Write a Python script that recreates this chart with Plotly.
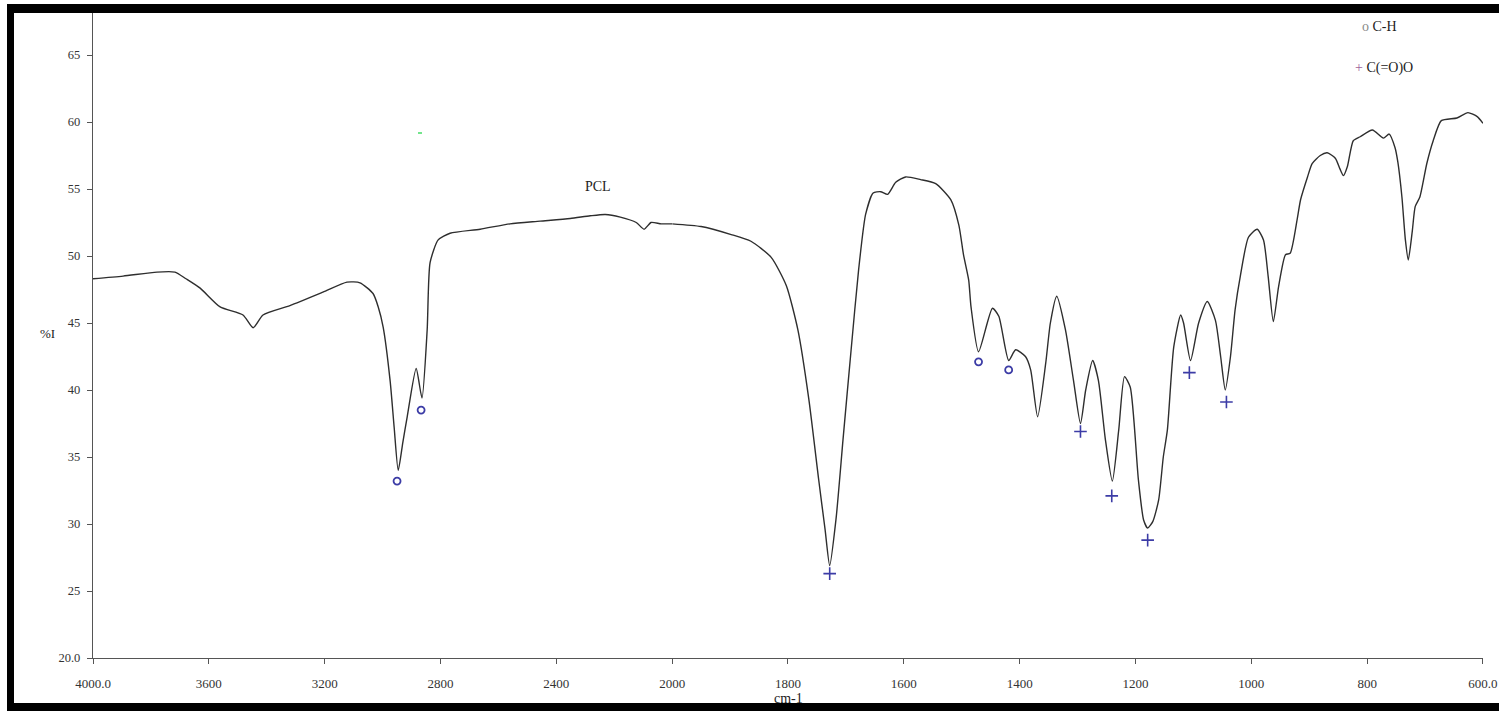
import plotly.graph_objects as go

# FTIR spectrum of PCL (wavenumber in cm-1, transmittance in %)
wavenumber = [
    4000, 3896, 3779, 3717, 3679, 3630, 3561, 3482, 3447, 3413, 3320, 3206,
    3123, 3078, 3033, 3015, 2998, 2974, 2960, 2946, 2930, 2915, 2884, 2864,
    2846, 2836, 2808, 2767, 2663, 2560, 2456, 2352, 2283, 2231, 2179, 2124,
    2097, 2073, 2038, 2000,
    1950, 1898, 1864, 1829, 1803, 1783, 1764, 1747, 1736, 1728, 1717, 1705,
    1691, 1678, 1666, 1653, 1640, 1628, 1614, 1597, 1571, 1545, 1519, 1505,
    1497, 1488, 1484, 1471, 1447, 1436, 1419, 1407, 1390, 1381, 1369, 1355,
    1347, 1336, 1321, 1307, 1295, 1286, 1274, 1264, 1252, 1240, 1229, 1219,
    1209, 1195, 1186, 1179, 1170, 1160, 1152, 1145, 1134, 1122, 1117, 1105,
    1091, 1076, 1062, 1053, 1045, 1036, 1028, 1019, 1005, 990, 979, 971,
    962, 953, 941, 933, 921, 915, 903, 895, 881, 869, 855, 847, 841, 834,
    824, 812, 791, 772, 762, 752, 747, 740, 734, 729, 722, 717, 709, 697,
    686, 672, 645, 626, 610, 600,
]
transmittance = [
    48.3, 48.5, 48.8, 48.8, 48.3, 47.6, 46.2, 45.6, 44.65, 45.6, 46.3, 47.3,
    48.05, 48.0, 47.2, 46.2, 44.7, 40.7, 37.2, 34.0, 36.1, 38.0, 41.6, 39.4,
    44.5, 49.5, 51.2, 51.7, 52.0, 52.4, 52.6, 52.8, 53.0, 53.1, 52.9, 52.5,
    52.0, 52.5, 52.4, 52.4,
    52.2, 51.6, 51.1, 49.9, 47.8, 44.5, 39.3, 33.3, 29.6, 26.9, 30.4, 36.3,
    43.0, 49.0, 53.1, 54.7, 54.8, 54.6, 55.5, 55.9, 55.7, 55.4, 54.2, 52.3,
    50.1, 48.2, 46.2, 42.85, 46.1, 45.5, 42.2, 43.0, 42.5, 41.5, 38.0, 42.0,
    45.0, 47.0, 44.5, 40.7, 37.5, 40.0, 42.2, 40.7, 36.3, 33.2, 37.0, 41.0,
    40.2, 33.3, 30.3, 29.7, 30.2, 31.8, 35.0, 37.0, 43.2, 45.6, 45.0, 42.2,
    45.0, 46.6, 45.2, 42.5, 40.0, 42.5, 46.0, 48.5, 51.4, 52.0, 51.2, 48.5,
    45.1, 47.7, 50.1, 50.2, 52.7, 54.2, 55.9, 56.9, 57.5, 57.7, 57.3, 56.5, 56.0, 56.7,
    58.6, 58.9, 59.4, 58.8, 59.1, 58.1, 57.0, 54.4, 51.2, 49.7, 51.9, 53.7, 54.4, 56.9,
    58.6, 60.1, 60.3, 60.7, 60.4, 59.9,
]

# Assigned bands: C-H stretching/bending (o) and ester C(=O)O (+)
ch_wavenumber = [2950, 2867, 1471, 1419]
ch_label_y = [33.2, 38.5, 42.1, 41.5]
ester_wavenumber = [1728, 1295, 1241, 1179, 1107, 1043]
ester_label_y = [26.3, 36.9, 32.1, 28.8, 41.3, 39.1]

# Axis ticks (the scale is compressed two-fold above 2000 cm-1)
x_ticks_high = [4000, 3600, 3200, 2800, 2400]
x_ticklabels_high = ["4000.0", "3600", "3200", "2800", "2400"]
x_ticks_low = [2000, 1800, 1600, 1400, 1200, 1000, 800, 600]
x_ticklabels_low = ["2000", "1800", "1600", "1400", "1200", "1000", "800", "600.0"]
y_ticks = [20, 25, 30, 35, 40, 45, 50, 55, 60, 65]
y_ticklabels = ["20.0", "25", "30", "35", "40", "45", "50", "55", "60", "65"]

W, H = 1499, 711
ML, MR, MT, MB = 93, 16, 13, 53
PW, PH = W - ML - MR, H - MT - MB
SPLIT = 2000
split_frac = (4000 - SPLIT) / 2 / ((4000 - SPLIT) / 2 + (SPLIT - 600))

SERIF = "Liberation Serif"
LINE = "#2e2e2e"
BLUE = "#3c3ca6"


def px_x(p):
    return (p - ML) / PW


def px_y(p):
    return (H - MB - p) / PH


hi_w = [w for w in wavenumber if w >= SPLIT]
hi_t = [t for w, t in zip(wavenumber, transmittance) if w >= SPLIT]
lo_w = [w for w in wavenumber if w <= SPLIT]
lo_t = [t for w, t in zip(wavenumber, transmittance) if w <= SPLIT]

spectrum_line = dict(color=LINE, width=1.4, shape="spline", smoothing=0.6)

fig = go.Figure()
fig.add_trace(go.Scatter(x=hi_w, y=hi_t, mode="lines", xaxis="x", yaxis="y",
                         line=spectrum_line, showlegend=False))
fig.add_trace(go.Scatter(x=lo_w, y=lo_t, mode="lines", xaxis="x2", yaxis="y",
                         line=spectrum_line, showlegend=False))

ch_hi = [(w, y) for w, y in zip(ch_wavenumber, ch_label_y) if w >= SPLIT]
ch_lo = [(w, y) for w, y in zip(ch_wavenumber, ch_label_y) if w < SPLIT]
ch_marker = dict(symbol="circle-open", size=7, color=BLUE, line=dict(width=1.8, color=BLUE))
fig.add_trace(go.Scatter(x=[p[0] for p in ch_hi], y=[p[1] for p in ch_hi], mode="markers",
                         xaxis="x", yaxis="y", marker=ch_marker, showlegend=False))
fig.add_trace(go.Scatter(x=[p[0] for p in ch_lo], y=[p[1] for p in ch_lo], mode="markers",
                         xaxis="x2", yaxis="y", marker=ch_marker, showlegend=False))
fig.add_trace(go.Scatter(x=ester_wavenumber, y=ester_label_y, mode="markers",
                         xaxis="x2", yaxis="y",
                         marker=dict(symbol="cross-thin", size=9, color=BLUE,
                                     line=dict(width=1.6, color=BLUE)),
                         showlegend=False))

axis_common = dict(
    showline=True, linecolor="#555", linewidth=1.3, mirror=False,
    ticks="outside", ticklen=5, tickwidth=1.3, tickcolor="#555",
    showgrid=False, zeroline=False, automargin=False,
    tickfont=dict(family=SERIF, size=13, color="#333"),
    ticklabelstandoff=8,
)

fig.update_layout(
    width=W, height=H,
    margin=dict(l=ML, r=MR, t=MT, b=MB),
    paper_bgcolor="white", plot_bgcolor="white",
    template="none",
    showlegend=False,
    xaxis=dict(domain=[0, split_frac], range=[4000, SPLIT], anchor="y",
               tickvals=x_ticks_high, ticktext=x_ticklabels_high, **axis_common),
    xaxis2=dict(domain=[split_frac, 1], range=[SPLIT, 600], anchor="y",
                tickvals=x_ticks_low, ticktext=x_ticklabels_low, **axis_common),
    yaxis=dict(range=[20, 20 + PH / 13.4], tickvals=y_ticks, ticktext=y_ticklabels,
               anchor="x", **{**axis_common, "ticklabelstandoff": 4,
                              "tickfont": dict(family=SERIF, size=12.5, color="#333")}),
)

text_font = dict(family=SERIF, size=14, color="#222")
annotations = [
    dict(text="PCL", x=px_x(598), y=px_y(186)),
    dict(text="%I", x=px_x(47), y=px_y(333), font=dict(family=SERIF, size=13, color="#222")),
    dict(text="cm-1", x=0.5, y=px_y(698), font=dict(family=SERIF, size=14, color="#222")),
    dict(text="<span style='color:#8a8a8a'>o</span> C-H", x=px_x(1360), y=px_y(27),
         xanchor="left"),
    dict(text="<span style='color:#a0609a'>+</span> C(=O)O", x=px_x(1353), y=px_y(68),
         xanchor="left"),
]
for a in annotations:
    base = dict(xref="paper", yref="paper", showarrow=False, xanchor="center",
                yanchor="middle", font=text_font)
    base.update(a)
    fig.add_annotation(**base)

# Black frame around the figure and a stray green dash
frame = [
    (7, 4, 14, 711),
    (7, 4, 1499, 13),
    (7, 703, 1499, 711),
]
for x0, y0, x1, y1 in frame:
    fig.add_shape(type="rect", xref="paper", yref="paper",
                  x0=px_x(x0), x1=px_x(x1), y0=px_y(y0), y1=px_y(y1),
                  fillcolor="black", line=dict(width=0), layer="above")
fig.add_shape(type="line", xref="paper", yref="paper",
              x0=px_x(418), x1=px_x(422), y0=px_y(133), y1=px_y(133),
              line=dict(color="#44dd66", width=1.5))

fig.write_html("out.html")
